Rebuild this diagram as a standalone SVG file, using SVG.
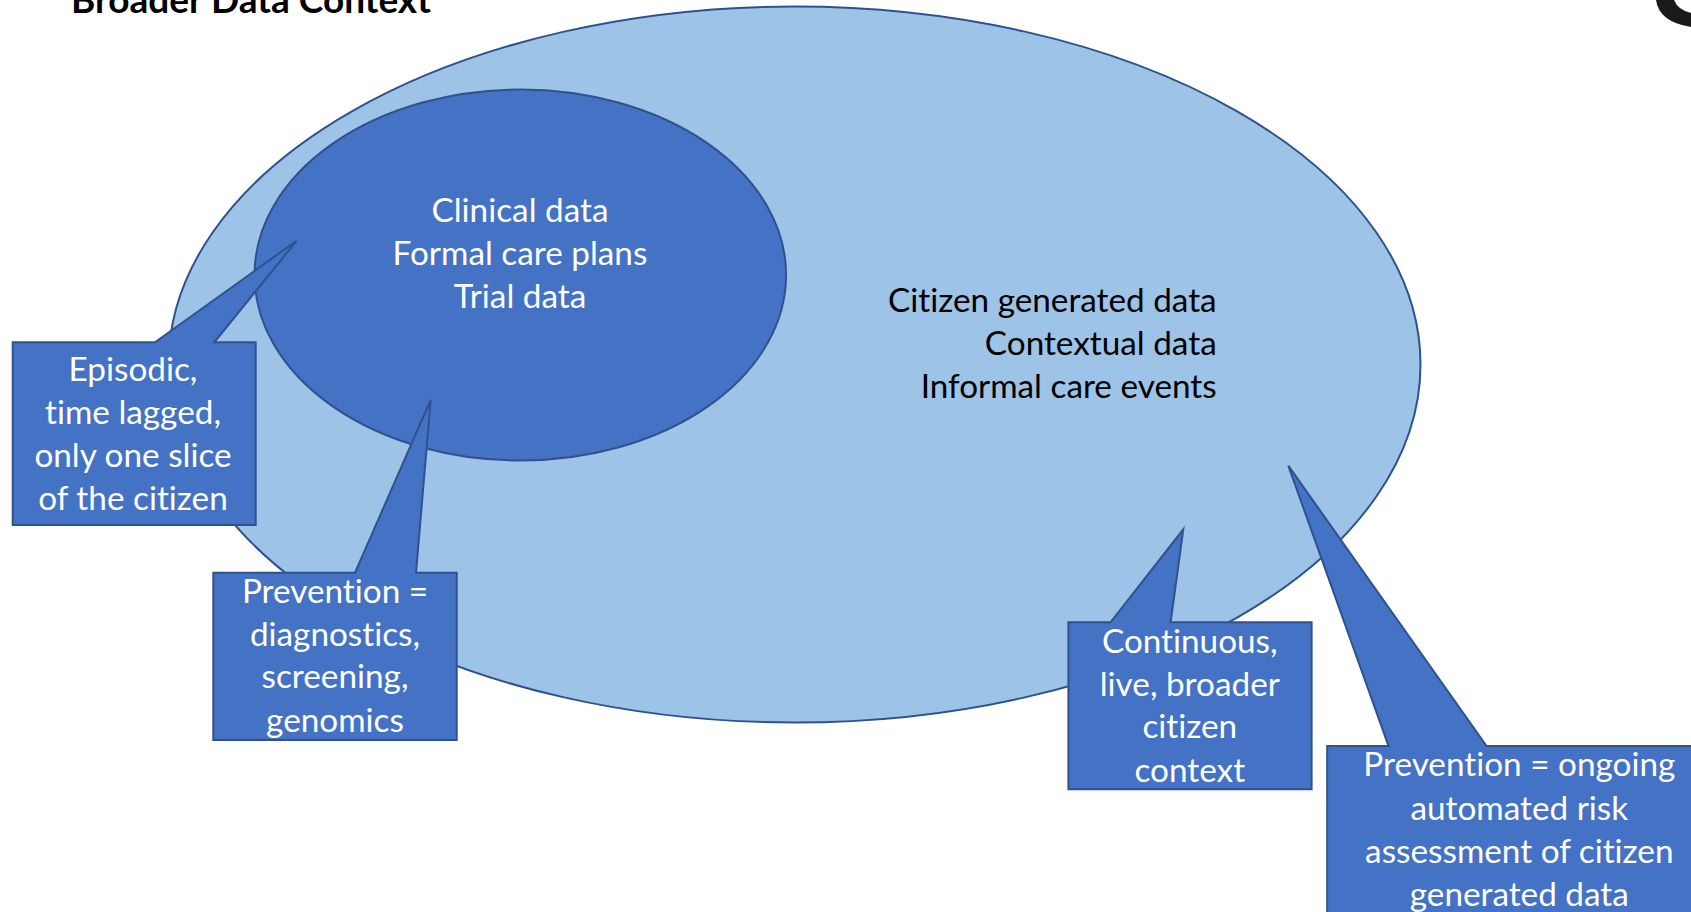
<svg xmlns="http://www.w3.org/2000/svg" width="1691" height="912" viewBox="0 0 1691 912">
<style>
.t{font-family:Lato,"Liberation Sans",sans-serif;font-size:33.3px;font-variant-ligatures:none}
.w{fill:#ffffff;text-anchor:middle}
.k{fill:#000000;text-anchor:end}
.co{fill:#4472C4;stroke:#2F528F;stroke-width:2;stroke-linejoin:miter}
</style>
<rect x="0" y="0" width="1691" height="912" fill="#ffffff"/>
<g id="title">
<text x="71" y="12.5" style="font-family:Lato,'Liberation Sans',sans-serif;font-size:37px;font-weight:bold;font-variant-ligatures:none" fill="#000">Broader Data Context</text>
</g>
<g id="logo">
<path d="M1656,0 Q1659,22 1691,27 L1691,13 Q1678,10 1674,0 Z" fill="#1a1a1a"/>
</g>
<g id="broader">
<ellipse cx="794.5" cy="364.5" rx="626" ry="358" fill="#9DC3E6" stroke="#2F528F" stroke-width="2"/>
<text class="t k" x="1216.7" y="311.7">Citizen generated data</text>
<text class="t k" x="1216.7" y="355">Contextual data</text>
<text class="t k" x="1216.7" y="398.3">Informal care events</text>
</g>
<g id="clinical">
<ellipse cx="520.3" cy="275" rx="265.8" ry="185.5" fill="#4472C4" stroke="#2F528F" stroke-width="2"/>
<text class="t w" x="520" y="221.7">Clinical data</text>
<text class="t w" x="520" y="265">Formal care plans</text>
<text class="t w" x="520" y="308.3">Trial data</text>
</g>
<g id="connectors">
</g>
<g id="callout-episodic">
<path class="co" d="M12.7,342.3 L155,342.3 L296.7,240.7 L214.3,342.3 L255.7,342.3 L255.7,525 L12.7,525 Z"/>
<text class="t w" x="133" y="381">Episodic,</text>
<text class="t w" x="133" y="424">time lagged,</text>
<text class="t w" x="133" y="466.7">only one slice</text>
<text class="t w" x="133" y="510">of the citizen</text>
</g>
<g id="callout-diagnostics">
<path class="co" d="M213.3,572.7 L355,572.7 L430.7,400 L416,572.7 L456.7,572.7 L456.7,740 L213.3,740 Z"/>
<text class="t w" x="335" y="603.3">Prevention =</text>
<text class="t w" x="335" y="646">diagnostics,</text>
<text class="t w" x="335" y="688">screening,</text>
<text class="t w" x="335" y="731.7">genomics</text>
</g>
<g id="callout-continuous">
<path class="co" d="M1068.4,622.3 L1110.5,622.3 L1183.3,529.3 L1170.6,622.3 L1311.6,622.3 L1311.6,789.3 L1068.4,789.3 Z"/>
<text class="t w" x="1189.8" y="652.7">Continuous,</text>
<text class="t w" x="1189.8" y="696">live, broader</text>
<text class="t w" x="1189.8" y="738.3">citizen</text>
<text class="t w" x="1189.8" y="781.7">context</text>
</g>
<g id="callout-ongoing">
<path class="co" d="M1327.2,746 L1388.5,746 L1288.3,465.7 L1486.6,746 L1711,746 L1711,930 L1327.2,930 Z"/>
<text class="t w" x="1519.3" y="776">Prevention = ongoing</text>
<text class="t w" x="1519.3" y="820">automated risk</text>
<text class="t w" x="1519.3" y="863">assessment of citizen</text>
<text class="t w" x="1519.3" y="906">generated data</text>
</g>
</svg>
